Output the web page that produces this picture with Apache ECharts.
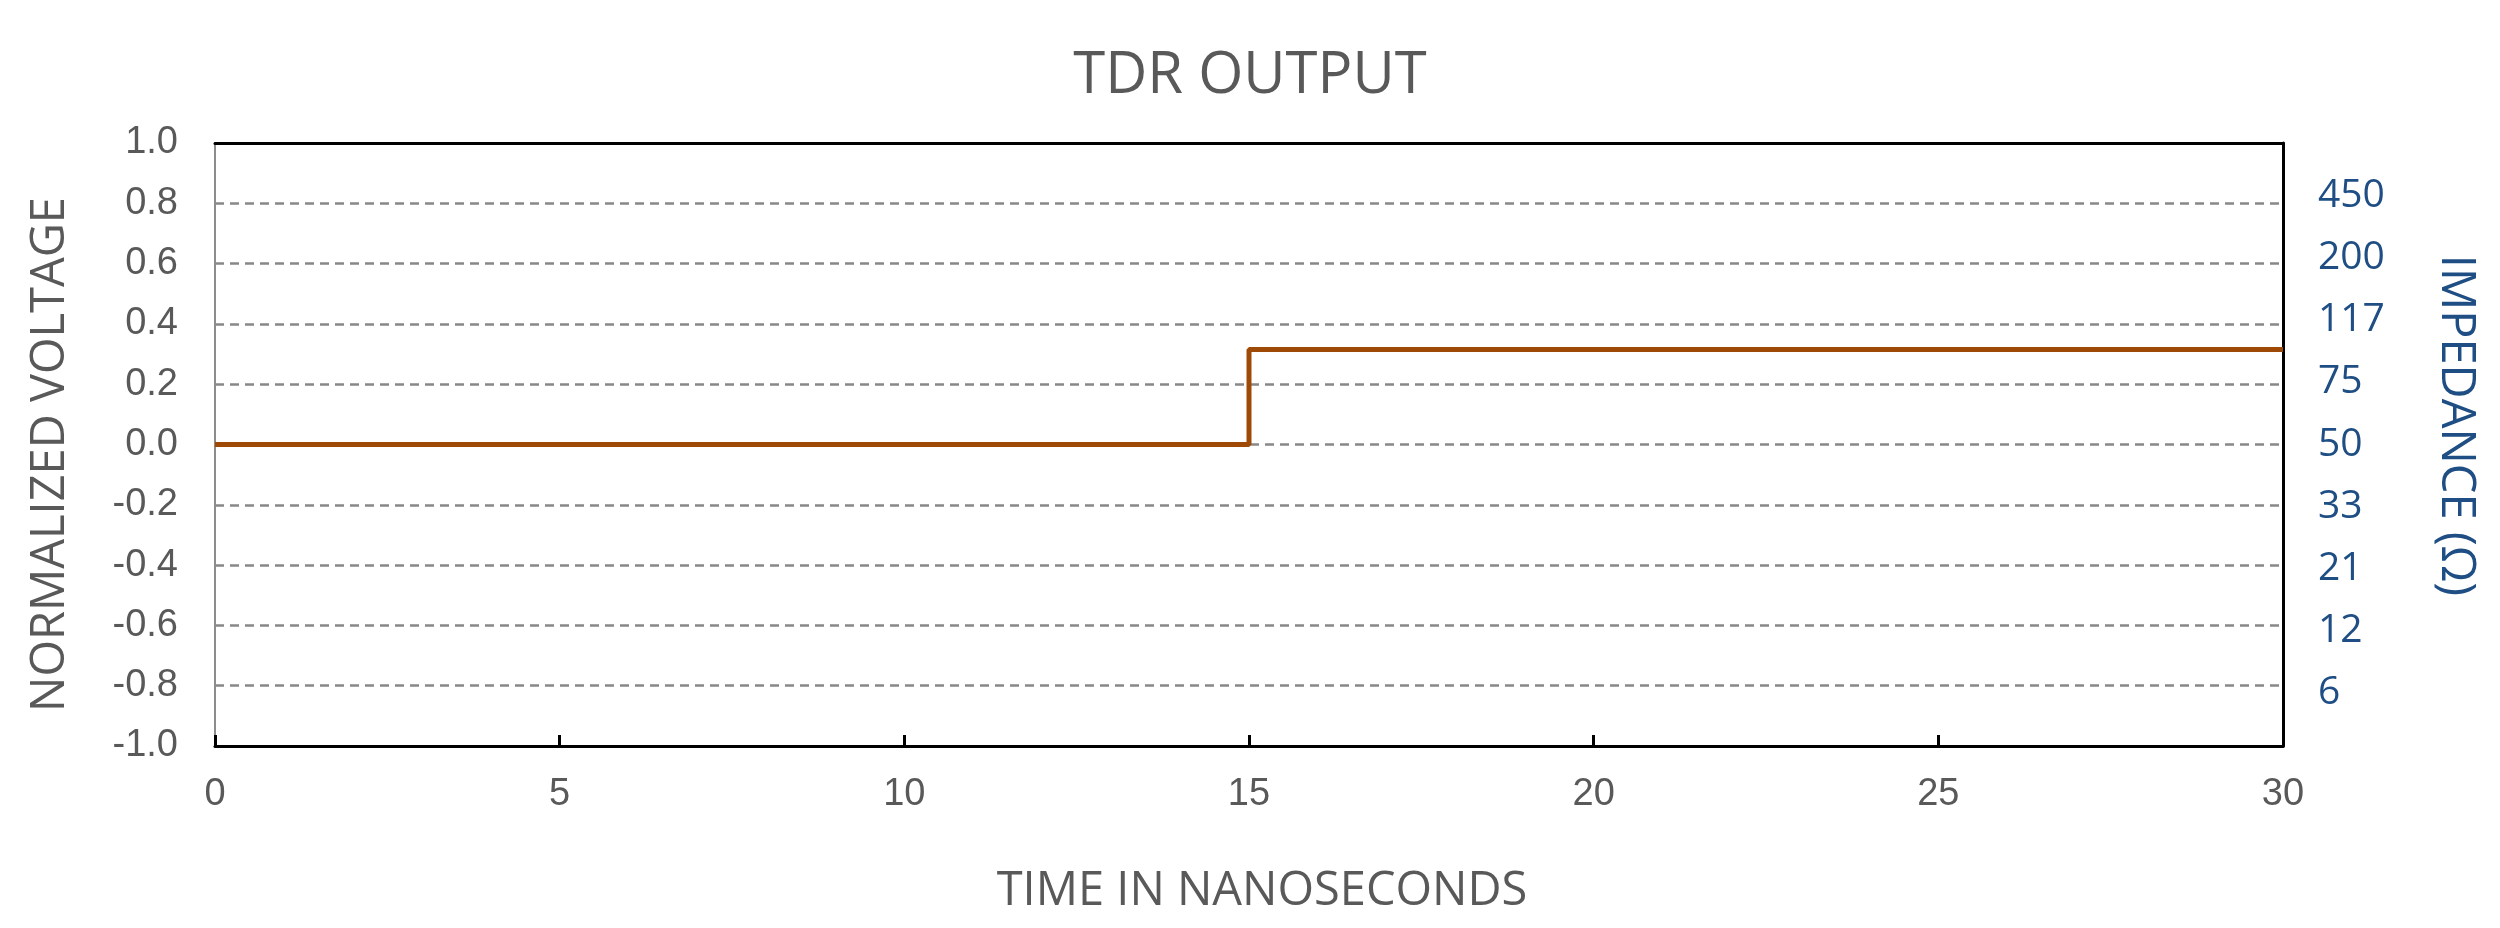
<!DOCTYPE html>
<html>
<head>
<meta charset="utf-8">
<title>TDR OUTPUT</title>
<script src="https://cdn.jsdelivr.net/npm/echarts@6/dist/echarts.min.js"></script>
<style>
  html, body { margin: 0; padding: 0; background: #fff; }
  #chart { width: 2500px; height: 928px; }
</style>
</head>
<body>
<div id="chart"></div>
<script>
// 数据
var times = [0, 15, 30];          // ns
var volts = [0, 0.315, 0.315];    // 归一化电压
// 右轴阻抗标签 (对应反射系数 -0.8 ... 0.8)
var rhoTicks = [-0.8, -0.6, -0.4, -0.2, 0, 0.2, 0.4, 0.6, 0.8];
var impedanceLabels = ['6', '12', '21', '33', '50', '75', '117', '200', '450'];

var gray = '#595959';
var blue = '#1F4E84';

var chart = echarts.init(document.getElementById('chart'));

var points = times.map(function (t, i) { return [t, volts[i]]; });

var option = {
  backgroundColor: '#fff',
  animation: false,
  title: {
    text: 'TDR OUTPUT',
    left: 'center',
    top: 42,
    textStyle: {
      fontFamily: 'Open Sans',
      fontSize: 58,
      fontWeight: 'normal',
      color: gray
    }
  },
  grid: {
    left: 215,
    right: 217,
    top: 143,
    bottom: 182
  },
  xAxis: [{
    type: 'value',
    min: 0,
    max: 30,
    interval: 5,
    name: 'TIME IN NANOSECONDS',
    nameLocation: 'middle',
    nameGap: 122,
    nameTextStyle: { fontFamily: 'Open Sans', fontSize: 47, color: gray, padding: [0, 0, 0, 26] },
    axisLine: { show: true, onZero: false, lineStyle: { color: '#000', width: 3 } },
    axisTick: { show: true, inside: true, length: 11, lineStyle: { color: '#000', width: 3 } },
    axisLabel: { fontFamily: 'Liberation Sans', fontSize: 38, color: gray, margin: 30 },
    splitLine: { show: false }
  }, {
    // 顶部边框
    type: 'value',
    position: 'top',
    min: 0,
    max: 30,
    axisLine: { show: true, onZero: false, lineStyle: { color: '#000', width: 3 } },
    axisTick: { show: false },
    axisLabel: { show: false },
    splitLine: { show: false }
  }],
  yAxis: [{
    type: 'value',
    min: -1,
    max: 1,
    interval: 0.2,
    name: 'NORMALIZED VOLTAGE',
    nameLocation: 'middle',
    nameGap: 141,
    nameTextStyle: { fontFamily: 'Open Sans', fontSize: 47, color: gray, padding: [0, 20, 0, 0] },
    axisLine: { show: true, onZero: false, lineStyle: { color: '#8c8c8c', width: 2 } },
    axisTick: { show: false },
    axisLabel: {
      fontFamily: 'Liberation Sans',
      fontSize: 38,
      color: gray,
      margin: 37,
      formatter: function (v) { return v.toFixed(1); }
    },
    splitLine: {
      show: true,
      lineStyle: { color: '#888', width: 2.5, type: [9, 6] }
    }
  }, {
    type: 'value',
    position: 'right',
    min: -0.97,
    max: 0.97,
    name: 'IMPEDANCE (Ω)',
    nameLocation: 'middle',
    nameRotate: -90,
    nameGap: 149,
    nameTextStyle: { fontFamily: 'Open Sans', fontSize: 47, color: blue, padding: [0, 38, 0, 0] },
    axisLine: { show: true, onZero: false, lineStyle: { color: '#000', width: 3 } },
    axisTick: { show: false },
    axisLabel: {
      fontFamily: 'Open Sans',
      fontSize: 39,
      color: blue,
      margin: 35,
      customValues: rhoTicks,
      formatter: function (v) {
        var idx = rhoTicks.indexOf(Math.round(v * 10) / 10);
        return idx >= 0 ? impedanceLabels[idx] : '';
      }
    },
    splitLine: { show: false }
  }],
  series: [{
    type: 'line',
    step: 'end',
    data: points,
    showSymbol: false,
    symbol: 'none',
    lineStyle: { color: '#9E4A06', width: 5 },
    z: 5
  }]
};

chart.setOption(option);
</script>
</body>
</html>
